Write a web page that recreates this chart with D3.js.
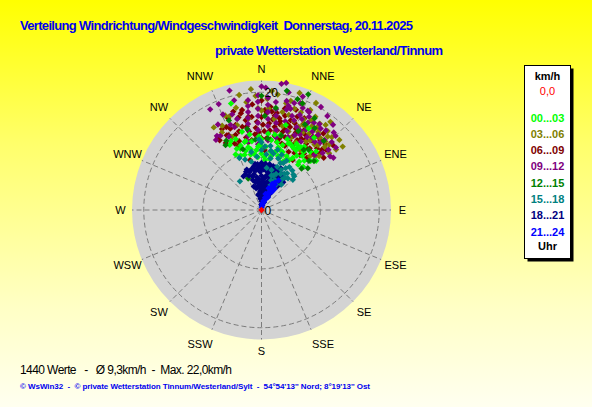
<!DOCTYPE html>
<html>
<head>
<meta charset="utf-8">
<script src="https://cdn.jsdelivr.net/npm/d3@7"></script>
<style>
  body { margin: 0; padding: 0; overflow: hidden; }
  text { font-family: Arial, "Liberation Sans", sans-serif; white-space: pre; }
</style>
</head>
<body>
<script>
// SVG size
var width = 592;
var height = 407;
var cx = 261.5, cy = 210;
var outerRadius = 129.5;
var maxSpeed = 22;

// compass labels
var directions = ["N", "NNE", "NE", "ENE", "E", "ESE", "SE", "SSE",
                  "S", "SSW", "SW", "WSW", "W", "WNW", "NW", "NNW"];
var ringValues = [10, 20];

// legend entries (hour bands)
var hourBands = ["00...03", "03...06", "06...09", "09...12", "12...15", "15...18", "18...21", "21...24"];
var bandColors = ["#00ff00", "#808000", "#800000", "#800080", "#008000", "#008080", "#000080", "#0000ff"];
// order in which the bands overlap in the picture (index into hourBands)
var drawOrder = [2, 1, 3, 0, 4, 6, 5, 7];

// readings [direction in degrees, speed km/h], per hour band
var h00 = [[344,18.8],[346,13.7],[334,12.3],[343,9.8],[4,8.5],[17,10.7],[23,12.3],[31,12.4],[43,13.6],[16,15.0],
           [338,11.2],[340,12.8],[348,10.9],[352,11.8],[355,10.2],[358,12.5],[0,9.6],[8,12.0],
           [10,9.3],[14,13.1],[19,9.4],[25,10.1],[27,11.9],[29,9.7],[33,11.0],[36,12.2],
           [38,10.4],[40,12.9],[45,11.8],[350,10.5],[356,9.0],[13,11.8],[26,12.0],[335,10.4],[342,11.5],[5,13.0],
           [9,8.8],[20,12.8],[36,15.2],[0,12.0],[30,16.0],[347,12.0],[353,9.5],[15,11.0],[24,9.0],[32,12.6],
           [336,12.8],[339,9.9],[341,11.0],[345,10.4],[346,11.9],[349,9.6],[351,13.0],[357,10.8],[359,11.2],
           [3,9.0],[4,10.8],[9,10.0],[13,10.1],[17,9.6],[18,11.6],
           [20,10.5],[22,12.2],[26,9.6],[28,12.7],[31,10.3],[34,13.0],[37,11.5],[39,9.9],[41,11.1],
           [44,10.2],[48,12.5],[30,11.7],[10,13.0],[0,10.7]];
var h03 = [[349,19.9],[15,19.2],[21,19.4],[34,17.7],[46,16.0],[39,15.8],[30,18.3],[25,17.0],[20,16.1],[28,14.9],
           [33,13.9],[41,14.6],[44,17.2],[50,15.0],[36,16.4],[18,18.1],[12,17.0],[8,15.6],[3,18.9],[358,17.3],
           [352,15.7],[346,17.9],[341,16.8],[335,15.8],[330,16.2],[338,13.4],[10,13.5],[24,15.5],[31,16.6],[38,19.0],
           [27,20.4],[14,14.7],[47,13.4],[42,12.3],[22,13.2],[5,20.3],[355,20.6],[18,20.9],[52,17.5],[40,17.5],
           [29,15.9],[35,14.4],[43,15.9],[26,18.9],
           [13,18.6],[16,16.8],[22,17.9],[26,16.1],[29,17.4],[32,15.3],[34,16.9],[37,18.1],[39,14.3],[42,16.8],
           [45,15.2],[48,17.8],[51,16.3],[8,19.8],[4,17.3],[0,16.9],[357,19.4],[352,18.5],[344,15.0],[339,17.2],
           [333,14.8],[27,12.9],[33,12.1],[45,13.0],[19,14.1]];
var h06 = [[335,14.0],[40,15.5],[0,15.8],[18,16.0],[35,11.4],[329,14.5],[329,13.8],[349,17.3],[352,16.0],
           [5,17.6],[9,16.7],[35,15.2],[38,13.3],[13,17.7],[338,12.2],[341,13.5],[343,15.1],
           [348,12.6],[350,14.4],[355,12.9],[357,15.0],[359,11.5],[2,13.4],[5,14.8],[7,12.1],
           [8,16.2],[11,13.8],[12,15.4],[14,12.5],[16,14.3],[18,13.0],[20,11.6],[21,15.8],
           [22,12.7],[24,14.4],[26,16.3],[27,13.3],[28,11.8],[30,14.8],[31,12.4],[33,16.5],[34,13.6],
           [36,14.6],[37,12.0],[39,16.7],[42,14.1],[44,15.6],[46,13.8],[25,17.2],[19,18.0],[340,16.6],[337,15.3],
           [0,18.6],[355,18.0],[48,16.4],[23,15.0],[29,16.0],[11,15.9],[350,15.5],
           [332,12.9],[334,15.3],[336,13.9],[339,14.8],[340,11.6],[342,12.3],[344,13.9],[346,16.2],[347,14.5],[349,11.7],
           [351,13.5],[352,12.0],[354,15.9],[356,14.0],[358,13.2],[0,12.2],[1,14.5],[3,16.5],[4,12.2],[6,13.6],
           [7,15.5],[9,14.3],[10,12.8],[12,14.9],[13,11.9],[15,13.7],[17,15.2],[17,11.8],[19,14.9],[20,13.1],
           [23,13.6],[26,12.4],[29,13.9],[30,11.2],[32,14.1],[35,13.0],[37,15.7],[40,13.0],[41,11.8],
           [43,12.9],[45,14.5],[47,15.0],[50,13.8],[28,15.3],[21,17.0],[14,16.5],[6,16.8],[2,17.0],[348,16.8],
           [344,17.4],[347,8.7],[32,10.0],[3,10.2],[25,10.9]];
var h09 = [[9,21.7],[11,22.0],[13,20.5],[17,19.0],[333,19.2],[329,14.7],[327,14.2],[54,15.1],[50,16.5],[45,17.8],
           [40,18.9],[35,19.5],[30,20.2],[25,18.6],[22,17.4],[28,16.8],[33,15.9],[38,14.7],[42,16.0],[47,14.2],
           [353.0,18.8],[352.6,17.8],[352.2,16.8],[351.7,15.8],[351.1,14.8],[350.4,13.8],[349.7,12.8],[348.8,11.8],
           [358.3,19.5],[358.1,18.4],[358.0,17.2],[357.9,16.0],[357.7,14.8],[357.5,13.6],[357.3,12.4],[357.0,11.2],
           [3.3,19.1],[3.5,17.9],[3.8,16.7],[4.1,15.5],[4.4,14.3],[4.8,13.1],[5.3,11.9],
           [7.6,18.5],[8.2,17.3],[8.8,16.2],[9.5,15.0],[10.3,13.8],[11.2,12.6],
           [345,16.0],[342,14.8],[338,17.5],[336,13.6],[15,15.6],[18,14.1],[20,16.2],[24,13.9],[26,15.0],
           [30,13.4],[36,17.1],[44,13.0],[14,17.6],[345,21.0],[2,20.8],[20,20.5],[34,17.6],[26,18.5],
           [14.5,18.3],[0,21.0],[13,19.0],[16,17.9],[18,16.8],[22,18.7],[24,16.9],[27,17.8],
           [29,15.6],[31,17.3],[32,14.6],[37,16.0],[39,17.4],[41,15.2],[43,18.0],[46,16.6],[48,15.3],[52,14.8],
           [340,15.4],[343,17.0],[346,19.2],[338,19.4],[333,16.3],[331,14.4],[23,15.3],[20,13.2],[27,14.4],
           [35,15.0],[20,19.3]];
var h12 = [[22,21.2],[21,19.4],[18,19.8],[0,19.4],[333,13.2],[337,5.8],[44,11.6],[44,9.8],[30,18.0],[35,12.5],
           [340,16.2],[12,20.7],[350,14.0],[25,14.8],[8,17.5],[331,12.6],[5,12.2],[38,13.0],
           [27,16.3],[33,16.6],[15,13.1],[355,12.0],[42,15.8],[47,12.2],[2,16.0],[343,10.8],[48,10.6]];
var h15 = [[0,10.2],[5,9.5],[12,9.8],[18,9.2],[25,8.8],[30,8.2],[35,7.6],[40,7.0],[46,7.4],[20,7.8],
           [28,6.9],[34,6.3],[24,5.6],[16,6.1],[10,8.9],[355,9.1],[348,8.4],[323,6.1],[0,11.5],[8,11.0],
           [15,10.6],[337,9.6],[20,4.5],[25,3.6],[30,5.0],[18,5.3],[38,5.5],[22,6.6],[42,8.1],
           [3,10.8],[9,10.2],[20,10.0],[27,9.4],[33,8.7],[38,8.5],[44,8.0],[350,10.0],[342,9.0],[358,12.0],
           [22,8.6],[26,7.6],[32,7.3],[36,6.8],[14,7.0],[19,6.2],[7,7.2]];
var h18 = [[350,7.5],[355,7.8],[0,8.0],[5,7.6],[10,7.9],[15,7.4],[20,7.0],[25,7.2],[352,6.8],[358,6.5],
           [3,6.9],[8,6.6],[13,6.3],[18,6.7],[23,6.1],[28,6.4],[345,5.9],[352,5.6],[0,5.8],[6,5.5],
           [11,5.9],[16,5.4],[22,5.7],[30,5.2],[348,4.8],[356,4.5],[2,4.9],[9,4.6],[14,4.3],[19,4.8],
           [26,4.4],[350,3.9],[358,3.6],[5,3.8],[12,3.4],[20,3.7],[28,3.2],[352,2.8],[0,2.6],[8,2.9],
           [15,2.4],[22,2.7],[355,1.9],[5,1.6],[12,2.0],[18,1.4],[2,1.0],[10,0.8],[340,6.2],[338,7.0],
           [32,5.8],[35,6.5],[25,7.8],[5,7.9],[357,7.4],[15,7.7],[342,4.2],[30,3.9],
           [347,7.2],[352,7.9],[0,7.1],[8,7.3],[18,7.6],[22,7.4],[28,7.0],[33,6.7],[38,6.0],[336,6.6],
           [343,6.8],[348,6.2],[354,7.0],[1,7.3],[6,6.9],[11,7.0],[17,6.2],[21,6.4],[26,6.0],[31,6.3],
           [344,5.3],[349,5.0],[355,5.2],[3,5.3],[8,5.9],[13,5.1],[18,5.9],[24,5.0],[27,5.5],[34,4.9],
           [346,3.8],[353,4.2],[0,4.1],[7,4.3],[11,3.9],[16,4.0],[22,4.1],[24,3.1],[17,3.2],[9,3.3],
           [2,3.1],[356,3.2],[348,2.6],[4,2.2],[11,2.5],[18,2.9],[25,2.6],[0,1.5],[8,1.9],[14,1.8],
           [358,0.9],[20,3.4],[29,4.7],[36,5.4],[350,6.9],[3,7.6],[12,7.5],[340,7.3],[332,6.5]];
var h21 = [[5,0.5],[10,0.9],[15,1.3],[18,1.7],[20,2.1],[22,2.5],[24,2.9],[25,3.3],[26,3.7],[28,4.1],
           [24,4.4],[20,3.0],[16,2.2],[12,1.6],[27,2.4],[30,3.6],[22,4.8],[18,3.9],[14,2.8],[8,1.2],
           [32,4.2],[26,5.2],[30,5.8],[28,4.9]];
var calm = [[0,0]];

var allBands = [h00, h03, h06, h09, h12, h15, h18, h21];

var svg = d3.select("body").append("svg")
            .attr("width", width)
            .attr("height", height);

// background gradient
var defs = svg.append("defs");
var grad = defs.append("linearGradient")
               .attr("id", "bg")
               .attr("x1", 0).attr("y1", 0).attr("x2", 0).attr("y2", 1);
grad.append("stop").attr("offset", "0%").attr("stop-color", "#ffff00");
grad.append("stop").attr("offset", "35%").attr("stop-color", "#ffff6a");
grad.append("stop").attr("offset", "75%").attr("stop-color", "#ffffc4");
grad.append("stop").attr("offset", "100%").attr("stop-color", "#fffff0");

svg.append("rect")
   .attr("width", width)
   .attr("height", height)
   .attr("fill", "url(#bg)");

var r = d3.scaleLinear().domain([0, maxSpeed]).range([0, outerRadius]);
var angle = d3.scaleLinear().domain([0, 360]).range([0, 2 * Math.PI]);

function px(d) { return cx + r(d[1]) * Math.sin(angle(d[0])); }
function py(d) { return cy - r(d[1]) * Math.cos(angle(d[0])); }

var plot = svg.append("g");

// grey disc
plot.append("circle")
    .attr("cx", cx).attr("cy", cy)
    .attr("r", outerRadius)
    .attr("fill", "#d3d3d3");

// grid rings
plot.selectAll(".ring")
    .data(ringValues)
    .enter()
    .append("circle")
    .attr("class", "ring")
    .attr("cx", cx).attr("cy", cy)
    .attr("r", d => r(d))
    .attr("fill", "none")
    .attr("stroke", "#7c7c7c")
    .attr("stroke-dasharray", "5,3");

// spokes
plot.selectAll(".spoke")
    .data(directions)
    .enter()
    .append("line")
    .attr("class", "spoke")
    .attr("x1", cx).attr("y1", cy)
    .attr("x2", (d, i) => px([i * 22.5, maxSpeed]))
    .attr("y2", (d, i) => py([i * 22.5, maxSpeed]))
    .attr("stroke", "#7c7c7c")
    .attr("stroke-dasharray", "5,3");

// compass labels (cardinals a bit closer, near-vertical ones pushed sideways)
function labelPos(i) {
    var a = angle(i * 22.5);
    var rad = (i % 4 === 0) ? 141 : 145;
    var x = cx + rad * Math.sin(a);
    var s = Math.sin(a);
    if (Math.abs(s) > 0.3 && Math.abs(s) < 0.5) x += (s > 0 ? 6 : -6);
    return [x, cy - rad * Math.cos(a)];
}

svg.selectAll(".dir")
   .data(directions)
   .enter()
   .append("text")
   .attr("class", "dir")
   .attr("x", (d, i) => labelPos(i)[0])
   .attr("y", (d, i) => labelPos(i)[1])
   .attr("dy", "0.35em")
   .attr("text-anchor", "middle")
   .attr("font-size", "11px")
   .attr("fill", "#000")
   .text(d => d);

// ring value labels
svg.selectAll(".rlabel")
   .data([0, 20])
   .enter()
   .append("text")
   .attr("class", "rlabel")
   .attr("x", cx + 3)
   .attr("y", d => cy - r(d))
   .attr("dy", "0.38em")
   .attr("font-size", "12px")
   .attr("fill", "#000")
   .text(d => d);

// points
var diamond = d3.symbol().type(d3.symbolSquare).size(20);

drawOrder.forEach(i => {
    plot.append("g")
        .selectAll("path")
        .data(allBands[i])
        .enter()
        .append("path")
        .attr("d", diamond)
        .attr("transform", d => "translate(" + px(d) + "," + py(d) + ") rotate(45)")
        .attr("fill", bandColors[i]);
});

plot.selectAll(".calm")
    .data(calm)
    .enter()
    .append("path")
    .attr("class", "calm")
    .attr("d", diamond)
    .attr("transform", d => "translate(" + px(d) + "," + py(d) + ") rotate(45)")
    .attr("fill", "#ff0000");

// titles
svg.append("text")
   .attr("x", 20).attr("y", 29.5)
   .attr("font-size", "13px").attr("font-weight", "bold")
   .attr("fill", "#0000ee")
   .attr("textLength", 393)
   .text("Verteilung Windrichtung/Windgeschwindigkeit  Donnerstag, 20.11.2025");

svg.append("text")
   .attr("x", 215).attr("y", 54.5)
   .attr("font-size", "13px").attr("font-weight", "bold")
   .attr("fill", "#0000ee")
   .attr("textLength", 228)
   .text("private Wetterstation Westerland/Tinnum");

// legend box
var legend = svg.append("g");
legend.append("rect")
      .attr("x", 527.5).attr("y", 68.5)
      .attr("width", 46).attr("height", 193)
      .attr("fill", "#000");
legend.append("rect")
      .attr("x", 524.5).attr("y", 65.5)
      .attr("width", 46).attr("height", 193)
      .attr("fill", "#fff")
      .attr("stroke", "#000");

legend.append("text")
      .attr("x", 547.5).attr("y", 79.5)
      .attr("text-anchor", "middle")
      .attr("font-size", "11px").attr("font-weight", "bold")
      .text("km/h");
legend.append("text")
      .attr("x", 547.5).attr("y", 95)
      .attr("text-anchor", "middle")
      .attr("font-size", "11px")
      .attr("fill", "#ff0000")
      .text("0,0");

var legendY = d3.scaleLinear().domain([0, 1]).range([121.5, 137.8]);
legend.selectAll(".band")
      .data(hourBands)
      .enter()
      .append("text")
      .attr("class", "band")
      .attr("x", 547.5)
      .attr("y", (d, i) => legendY(i))
      .attr("text-anchor", "middle")
      .attr("font-size", "11px").attr("font-weight", "bold")
      .attr("fill", (d, i) => bandColors[i])
      .text(d => d);

legend.append("text")
      .attr("x", 547.5).attr("y", 250)
      .attr("text-anchor", "middle")
      .attr("font-size", "11px").attr("font-weight", "bold")
      .text("Uhr");

// footer
svg.append("text")
   .attr("x", 20).attr("y", 373.5)
   .attr("font-size", "12px")
   .attr("fill", "#000")
   .attr("textLength", 212)
   .text("1440 Werte   -   \u00d8 9,3km/h  -  Max. 22,0km/h");

svg.append("text")
   .attr("x", 20).attr("y", 388.5)
   .attr("font-size", "8px").attr("font-weight", "bold")
   .attr("fill", "#0000ee")
   .attr("textLength", 350)
   .text("\u00a9 WsWin32  -  \u00a9 private Wetterstation Tinnum/Westerland/Sylt  -  54\u00b054'13'' Nord; 8\u00b019'13'' Ost");
</script>
</body>
</html>
